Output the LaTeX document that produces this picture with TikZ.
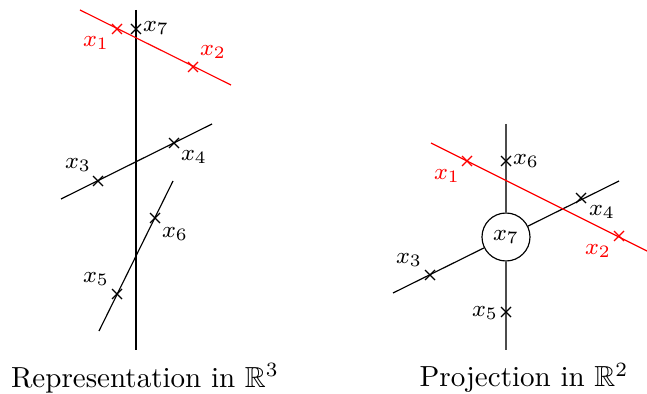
\documentclass[tikz,border=0pt]{standalone}
\usepackage{amssymb}
\begin{document}
\begin{tikzpicture}[x=0.0121cm,y=-0.0121cm,
  ln/.style={line width=0.4pt},
  redln/.style={red,line width=0.4pt},
  lbl/.style={inner sep=0pt,font=\footnotesize},
  title/.style={inner sep=0pt}]
\useasboundingbox (0,0) rectangle (647,394);
\newcommand\crs[2][black]{\draw[#1] (#2) +(-5,-5) -- +(5,5) +(-5,5) -- +(5,-5);}
% ---------- left panel ----------
\coordinate (Lvt) at (136,10);
\coordinate (Lvb) at (136,350);
\draw[ln] (Lvt) -- (Lvb);
\coordinate (Lra) at (80,10);
\coordinate (Lrb) at (231,85);
\draw[redln] (Lra) -- (Lrb);
\coordinate (Lc1) at (117,29);
\coordinate (Lc2) at (193,67);
\coordinate (Lc7) at (136,29);
\crs[red]{Lc1}\crs[red]{Lc2}\crs{Lc7}
\node[lbl,red] (Lx1) at (96,43) {$x_1$};
\node[lbl,red] (Lx2) at (213,52) {$x_2$};
\node[lbl] (Lx7) at (156,28) {$x_7$};
\coordinate (Lsa) at (61,199);
\coordinate (Lsb) at (212,124);
\draw[ln] (Lsa) -- (Lsb);
\coordinate (Lc3) at (98,181);
\coordinate (Lc4) at (174,143);
\crs{Lc3}\crs{Lc4}
\node[lbl] (Lx3) at (78,165) {$x_3$};
\node[lbl] (Lx4) at (194,157) {$x_4$};
\coordinate (Lta) at (99,331);
\coordinate (Ltb) at (173,181);
\draw[ln] (Lta) -- (Ltb);
\coordinate (Lc5) at (117,294);
\coordinate (Lc6) at (155,218);
\crs{Lc5}\crs{Lc6}
\node[lbl] (Lx5) at (96,279) {$x_5$};
\node[lbl] (Lx6) at (175,234) {$x_6$};
\node[title] (T1) at (145,378) {Representation in $\mathbb{R}^3$};
% ---------- right panel ----------
\node[draw,circle,minimum size=48*0.0121cm,inner sep=0pt,font=\footnotesize] (Rx7) at (506,237) {$x_7$};
\coordinate (Rvt) at (506,124);
\coordinate (Rvb) at (506,350);
\draw[black!70] (Rvt) -- (Rx7.north);
\draw[black!70] (Rx7.south) -- (Rvb);
\coordinate (Rsa) at (393,293);
\coordinate (Rsb) at (619,181);
\draw[ln] (Rsa) -- (Rx7);
\draw[ln] (Rx7) -- (Rsb);
\coordinate (Rra) at (431,143);
\coordinate (Rrb) at (647,251);
\draw[redln] (Rra) -- (Rrb);
\coordinate (Rc1) at (467,161);
\coordinate (Rc2) at (619,236);
\crs[red]{Rc1}\crs[red]{Rc2}
\node[lbl,red] (Rx1) at (447,176) {$x_1$};
\node[lbl,red] (Rx2) at (598,251) {$x_2$};
\coordinate (Rc6) at (506,161);
\coordinate (Rc5) at (506,312);
\crs{Rc6}\crs{Rc5}
\node[lbl] (Rx6) at (526,161) {$x_6$};
\node[lbl] (Rx5) at (485,313) {$x_5$};
\coordinate (Rc3) at (430,275);
\coordinate (Rc4) at (581,198);
\crs{Rc3}\crs{Rc4}
\node[lbl] (Rx3) at (409,260) {$x_3$};
\node[lbl] (Rx4) at (602,212) {$x_4$};
\node[title] (T2) at (524,378) {Projection in $\mathbb{R}^2$};
\end{tikzpicture}
\end{document}
